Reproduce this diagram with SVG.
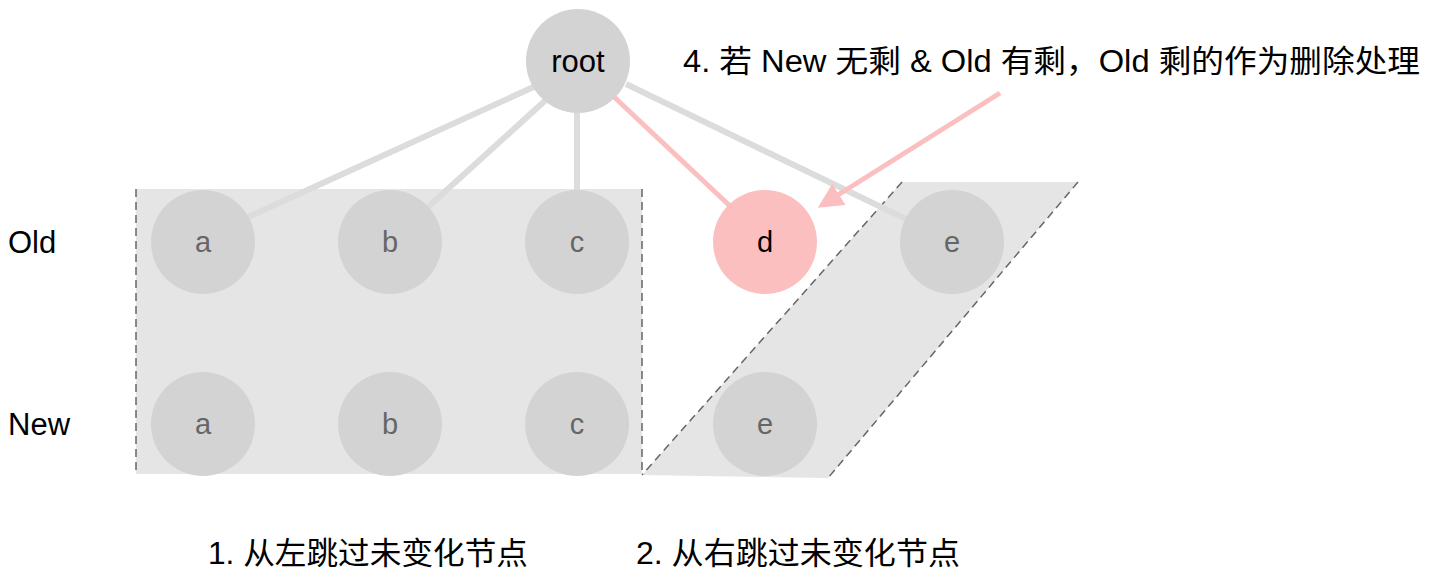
<svg xmlns="http://www.w3.org/2000/svg" width="1430" height="582" viewBox="0 0 1430 582">
<style>
.n{fill:#d3d3d3}
.t{font-family:"Liberation Sans","Noto Sans CJK SC",sans-serif;font-size:31px;fill:#000}
.nl{font-family:"Liberation Sans",sans-serif;font-size:29px;fill:#666;text-anchor:middle;dominant-baseline:central}
.edge{stroke:#dcdcdc;stroke-width:6;fill:none}
.dash{stroke:#666;stroke-width:1.5;stroke-dasharray:8 5;fill:none}
</style>
<defs>
<marker id="ah" viewBox="0 0 10 10" refX="8" refY="5" markerWidth="5" markerHeight="5" orient="auto" markerUnits="strokeWidth">
<path d="M0,0 L10,5 L0,10 z" fill="#fbbfc0"/>
</marker>
</defs>
<g id="regions">
<rect x="136" y="189" width="506" height="285" fill="#e5e5e5"/>
<line class="dash" x1="136" y1="189" x2="136" y2="474"/>
<line class="dash" x1="642" y1="189" x2="642" y2="474"/>
<polygon points="902,182 1078,182 828,478 642,475" fill="#e5e5e5"/>
<line class="dash" x1="902" y1="182" x2="642" y2="475"/>
<line class="dash" x1="1078" y1="182" x2="828" y2="478"/>
</g>
<g id="connectors">
<line class="edge" x1="540" y1="84" x2="246" y2="218"/>
<line class="edge" x1="548" y1="98" x2="428" y2="207"/>
<line class="edge" x1="577" y1="110" x2="577" y2="192"/>
<line x1="612" y1="95" x2="730" y2="206" stroke="#fbbfc0" stroke-width="5"/>
<line class="edge" x1="626" y1="84" x2="908" y2="220"/>
<line x1="1000" y1="93" x2="822" y2="205" stroke="#fbbfc0" stroke-width="5" marker-end="url(#ah)"/>
</g>
<g id="root"><circle class="n" cx="578" cy="61" r="52"/><text class="t" x="578" y="61" text-anchor="middle" dominant-baseline="central">root</text></g>
<g id="old-a"><circle class="n" cx="203" cy="242" r="52"/><text class="nl" x="203" y="242">a</text></g>
<g id="old-b"><circle class="n" cx="390" cy="242" r="52"/><text class="nl" x="390" y="242">b</text></g>
<g id="old-c"><circle class="n" cx="577" cy="242" r="52"/><text class="nl" x="577" y="242">c</text></g>
<g id="old-d"><circle cx="765" cy="242" r="52" fill="#fbbfc0"/><text class="nl" x="765" y="242" style="fill:#000">d</text></g>
<g id="old-e"><circle class="n" cx="952" cy="242" r="52"/><text class="nl" x="952" y="242">e</text></g>
<g id="new-a"><circle class="n" cx="203" cy="424" r="52"/><text class="nl" x="203" y="424">a</text></g>
<g id="new-b"><circle class="n" cx="390" cy="424" r="52"/><text class="nl" x="390" y="424">b</text></g>
<g id="new-c"><circle class="n" cx="577" cy="424" r="52"/><text class="nl" x="577" y="424">c</text></g>
<g id="new-e"><circle class="n" cx="765" cy="424" r="52"/><text class="nl" x="765" y="424">e</text></g>
<g id="labels">
<text class="t" x="8" y="253">Old</text>
<text class="t" x="8" y="435">New</text>
<text class="t" x="683" y="72" textLength="737" lengthAdjust="spacingAndGlyphs">4. 若 New 无剩 &amp; Old 有剩，Old 剩的作为删除处理</text>
<text class="t" x="208" y="564" textLength="320" lengthAdjust="spacingAndGlyphs">1. 从左跳过未变化节点</text>
<text class="t" x="636" y="564" textLength="324" lengthAdjust="spacingAndGlyphs">2. 从右跳过未变化节点</text>
</g>
</svg>
